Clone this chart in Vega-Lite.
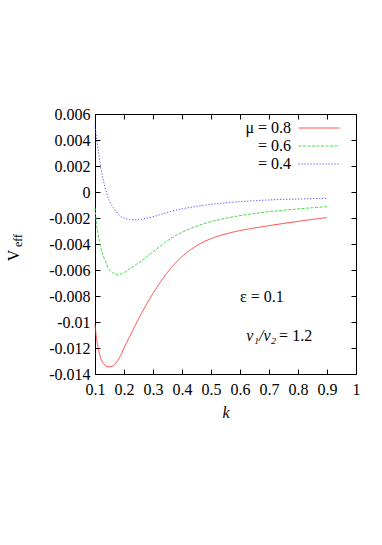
{
  "$schema": "https://vega.github.io/schema/vega-lite/v6.json",
  "width": 261,
  "height": 260,
  "autosize": {"type": "none"},
  "padding": {"left": 95, "top": 114, "right": 26, "bottom": 171},
  "background": "white",
  "config": {
    "view": {"stroke": null},
    "font": "Liberation Serif",
    "text": {"font": "Liberation Serif"},
    "axis": {"labelFont": "Liberation Serif", "titleFont": "Liberation Serif", "labelColor": "black", "titleColor": "black", "tickColor": "black", "domainColor": "black", "grid": false},
    "legend": {"labelFont": "Liberation Serif"}
  },
  "data": {
    "values": [
      {"k": 0.1, "V": -0.0102, "mu": "0.8"},
      {"k": 0.105, "V": -0.0112, "mu": "0.8"},
      {"k": 0.11, "V": -0.0119, "mu": "0.8"},
      {"k": 0.115, "V": -0.0124, "mu": "0.8"},
      {"k": 0.12, "V": -0.0128, "mu": "0.8"},
      {"k": 0.13, "V": -0.0132, "mu": "0.8"},
      {"k": 0.14, "V": -0.01342, "mu": "0.8"},
      {"k": 0.15, "V": -0.01345, "mu": "0.8"},
      {"k": 0.16, "V": -0.0134, "mu": "0.8"},
      {"k": 0.17, "V": -0.0132, "mu": "0.8"},
      {"k": 0.18, "V": -0.0129, "mu": "0.8"},
      {"k": 0.19, "V": -0.0125, "mu": "0.8"},
      {"k": 0.2, "V": -0.0120, "mu": "0.8"},
      {"k": 0.22, "V": -0.0111, "mu": "0.8"},
      {"k": 0.24, "V": -0.0102, "mu": "0.8"},
      {"k": 0.26, "V": -0.00935, "mu": "0.8"},
      {"k": 0.28, "V": -0.00855, "mu": "0.8"},
      {"k": 0.3, "V": -0.0078, "mu": "0.8"},
      {"k": 0.32, "V": -0.00711, "mu": "0.8"},
      {"k": 0.34, "V": -0.00647, "mu": "0.8"},
      {"k": 0.36, "V": -0.0059, "mu": "0.8"},
      {"k": 0.38, "V": -0.0054, "mu": "0.8"},
      {"k": 0.4, "V": -0.00497, "mu": "0.8"},
      {"k": 0.42, "V": -0.0046, "mu": "0.8"},
      {"k": 0.44, "V": -0.00428, "mu": "0.8"},
      {"k": 0.46, "V": -0.00401, "mu": "0.8"},
      {"k": 0.48, "V": -0.00378, "mu": "0.8"},
      {"k": 0.5, "V": -0.00359, "mu": "0.8"},
      {"k": 0.55, "V": -0.00323, "mu": "0.8"},
      {"k": 0.6, "V": -0.00297, "mu": "0.8"},
      {"k": 0.65, "V": -0.00277, "mu": "0.8"},
      {"k": 0.7, "V": -0.00259, "mu": "0.8"},
      {"k": 0.75, "V": -0.00242, "mu": "0.8"},
      {"k": 0.8, "V": -0.00226, "mu": "0.8"},
      {"k": 0.85, "V": -0.00211, "mu": "0.8"},
      {"k": 0.9, "V": -0.00197, "mu": "0.8"},

      {"k": 0.1, "V": -0.0012, "mu": "0.6"},
      {"k": 0.105, "V": -0.0024, "mu": "0.6"},
      {"k": 0.11, "V": -0.0032, "mu": "0.6"},
      {"k": 0.115, "V": -0.0038, "mu": "0.6"},
      {"k": 0.12, "V": -0.0043, "mu": "0.6"},
      {"k": 0.13, "V": -0.0050, "mu": "0.6"},
      {"k": 0.14, "V": -0.0056, "mu": "0.6"},
      {"k": 0.15, "V": -0.0060, "mu": "0.6"},
      {"k": 0.16, "V": -0.0062, "mu": "0.6"},
      {"k": 0.17, "V": -0.0063, "mu": "0.6"},
      {"k": 0.18, "V": -0.0064, "mu": "0.6"},
      {"k": 0.19, "V": -0.0063, "mu": "0.6"},
      {"k": 0.2, "V": -0.0062, "mu": "0.6"},
      {"k": 0.22, "V": -0.0059, "mu": "0.6"},
      {"k": 0.24, "V": -0.0056, "mu": "0.6"},
      {"k": 0.26, "V": -0.0053, "mu": "0.6"},
      {"k": 0.28, "V": -0.00495, "mu": "0.6"},
      {"k": 0.3, "V": -0.0046, "mu": "0.6"},
      {"k": 0.32, "V": -0.00425, "mu": "0.6"},
      {"k": 0.34, "V": -0.0039, "mu": "0.6"},
      {"k": 0.36, "V": -0.0036, "mu": "0.6"},
      {"k": 0.38, "V": -0.00333, "mu": "0.6"},
      {"k": 0.4, "V": -0.0031, "mu": "0.6"},
      {"k": 0.43, "V": -0.0028, "mu": "0.6"},
      {"k": 0.46, "V": -0.00255, "mu": "0.6"},
      {"k": 0.5, "V": -0.00228, "mu": "0.6"},
      {"k": 0.55, "V": -0.00202, "mu": "0.6"},
      {"k": 0.6, "V": -0.00182, "mu": "0.6"},
      {"k": 0.65, "V": -0.00165, "mu": "0.6"},
      {"k": 0.7, "V": -0.00151, "mu": "0.6"},
      {"k": 0.75, "V": -0.0014, "mu": "0.6"},
      {"k": 0.8, "V": -0.0013, "mu": "0.6"},
      {"k": 0.85, "V": -0.00121, "mu": "0.6"},
      {"k": 0.9, "V": -0.00113, "mu": "0.6"},

      {"k": 0.1, "V": 0.0051, "mu": "0.4"},
      {"k": 0.105, "V": 0.0042, "mu": "0.4"},
      {"k": 0.11, "V": 0.0034, "mu": "0.4"},
      {"k": 0.115, "V": 0.0026, "mu": "0.4"},
      {"k": 0.12, "V": 0.0019, "mu": "0.4"},
      {"k": 0.125, "V": 0.0013, "mu": "0.4"},
      {"k": 0.13, "V": 0.0008, "mu": "0.4"},
      {"k": 0.14, "V": -0.0001, "mu": "0.4"},
      {"k": 0.15, "V": -0.0007, "mu": "0.4"},
      {"k": 0.16, "V": -0.0011, "mu": "0.4"},
      {"k": 0.17, "V": -0.0014, "mu": "0.4"},
      {"k": 0.18, "V": -0.0017, "mu": "0.4"},
      {"k": 0.19, "V": -0.0019, "mu": "0.4"},
      {"k": 0.2, "V": -0.0020, "mu": "0.4"},
      {"k": 0.22, "V": -0.00212, "mu": "0.4"},
      {"k": 0.24, "V": -0.00215, "mu": "0.4"},
      {"k": 0.26, "V": -0.0021, "mu": "0.4"},
      {"k": 0.28, "V": -0.0020, "mu": "0.4"},
      {"k": 0.3, "V": -0.0019, "mu": "0.4"},
      {"k": 0.33, "V": -0.0017, "mu": "0.4"},
      {"k": 0.36, "V": -0.0015, "mu": "0.4"},
      {"k": 0.4, "V": -0.0013, "mu": "0.4"},
      {"k": 0.45, "V": -0.0011, "mu": "0.4"},
      {"k": 0.5, "V": -0.00095, "mu": "0.4"},
      {"k": 0.55, "V": -0.00083, "mu": "0.4"},
      {"k": 0.6, "V": -0.00074, "mu": "0.4"},
      {"k": 0.65, "V": -0.00067, "mu": "0.4"},
      {"k": 0.7, "V": -0.00061, "mu": "0.4"},
      {"k": 0.75, "V": -0.00057, "mu": "0.4"},
      {"k": 0.8, "V": -0.00054, "mu": "0.4"},
      {"k": 0.85, "V": -0.00051, "mu": "0.4"},
      {"k": 0.9, "V": -0.00049, "mu": "0.4"}
    ]
  },
  "layer": [
    {
      "mark": {"type": "line", "interpolate": "monotone", "strokeWidth": 0.9},
      "encoding": {
        "x": {"field": "k", "type": "quantitative",
          "scale": {"domain": [0.1, 1], "nice": false, "zero": false},
          "axis": {"orient": "bottom", "values": [0.1,0.2,0.3,0.4,0.5,0.6,0.7,0.8,0.9,1],
            "labelExpr": "format(datum.value, '~g')", "labelFontSize": 16, "labelPadding": 12,
            "tickSize": -5, "domain": true, "labelFlush": false,
            "title": "k", "titleFontSize": 16, "titleFontStyle": "italic", "titleFontWeight": "normal", "titleX": 130.5, "titleY": 43, "titleBaseline": "alphabetic"}},
        "y": {"field": "V", "type": "quantitative",
          "scale": {"domain": [-0.014, 0.006], "nice": false, "zero": false},
          "axis": {"orient": "left", "values": [-0.014,-0.012,-0.01,-0.008,-0.006,-0.004,-0.002,0,0.002,0.004,0.006],
            "labelExpr": "replace(format(datum.value, '~g'), '\u2212', '-')", "labelFontSize": 16, "labelPadding": 10,
            "tickSize": -5, "domain": true, "labelFlush": false,
            "title": "V", "titleFontSize": 16, "titleFontWeight": "normal", "titleAngle": 270, "titleX": -77, "titleY": 141, "titleAlign": "center", "titleBaseline": "alphabetic"}},
        "color": {"field": "mu", "type": "nominal",
          "scale": {"domain": ["0.8", "0.6", "0.4"], "range": ["#ff3030", "#30d830", "#3a3aff"]},
          "legend": {"orient": "none", "legendX": 216, "legendY": 6, "title": null, "padding": 0,
            "symbolType": "M-4,0H4", "symbolSize": 105, "symbolStrokeWidth": 0.9, "rowPadding": 2,
            "labelAlign": "right", "labelOffset": -36, "labelFontSize": 16, "labelColor": "black",
            "labelExpr": "datum.label == '0.8' ? 'μ = 0.8' : '= ' + datum.label"}},
        "strokeDash": {"field": "mu", "type": "nominal",
          "scale": {"domain": ["0.8", "0.6", "0.4"], "range": [[1, 0], [3, 1.5], [1.2, 1.8]]},
          "legend": null}
      }
    },
    {
      "mark": {"type": "line", "opacity": 0},
      "encoding": {
        "x": {"field": "k", "type": "quantitative",
          "axis": {"orient": "top", "values": [0.1,0.2,0.3,0.4,0.5,0.6,0.7,0.8,0.9,1], "labels": false, "tickSize": -5, "domain": true, "title": null}},
        "y": {"field": "V", "type": "quantitative",
          "axis": {"orient": "right", "values": [-0.014,-0.012,-0.01,-0.008,-0.006,-0.004,-0.002,0,0.002,0.004,0.006], "labels": false, "tickSize": -5, "domain": true, "title": null}},
        "detail": {"field": "mu"}
      }
    },
    {
      "data": {"values": [{}]},
      "mark": {"type": "text", "align": "left", "baseline": "middle", "fontSize": 16, "font": "Liberation Serif"},
      "encoding": {
        "x": {"datum": 0.6, "type": "quantitative", "axis": null},
        "y": {"datum": -0.0081, "type": "quantitative",
          "axis": {"orient": "left", "ticks": false, "labels": false, "domain": false, "grid": false,
            "title": "eff", "titleFontSize": 12, "titleFontWeight": "normal", "titleAngle": 270, "titleX": -74, "titleY": 126, "titleAlign": "center", "titleBaseline": "alphabetic"}},
        "text": {"value": "ε = 0.1"}
      }
    },
    {
      "data": {"values": [{}]},
      "mark": {"type": "text", "align": "right", "baseline": "middle", "fontSize": 16, "font": "Liberation Serif", "fontStyle": "italic", "dx": -1},
      "encoding": {
        "x": {"datum": 0.728, "type": "quantitative", "axis": null},
        "y": {"datum": -0.0111, "type": "quantitative", "axis": null},
        "text": {"value": "v₁/v₂"}
      }
    },
    {
      "data": {"values": [{}]},
      "mark": {"type": "text", "align": "left", "baseline": "middle", "fontSize": 16, "font": "Liberation Serif", "dx": 2},
      "encoding": {
        "x": {"datum": 0.728, "type": "quantitative", "axis": null},
        "y": {"datum": -0.0111, "type": "quantitative", "axis": null},
        "text": {"value": "= 1.2"}
      }
    }
  ],
  "resolve": {"axis": {"x": "independent", "y": "independent"}}
}
